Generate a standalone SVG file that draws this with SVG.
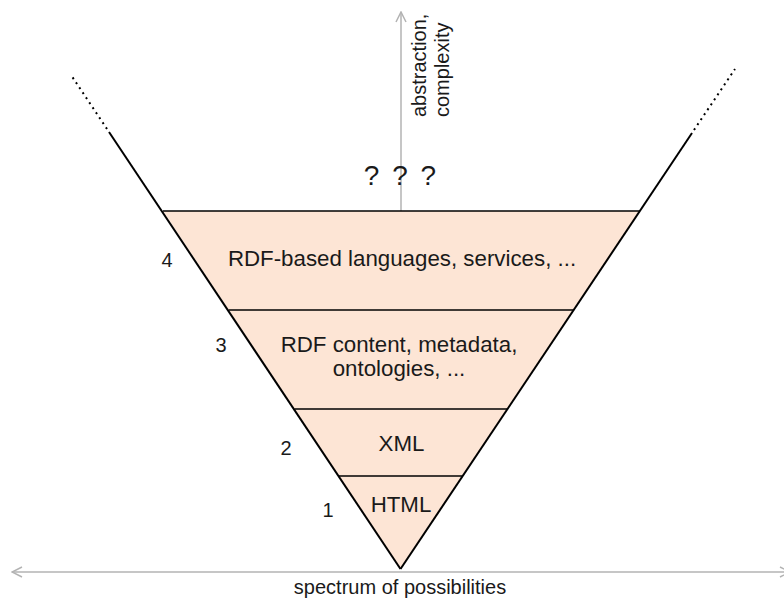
<svg xmlns="http://www.w3.org/2000/svg" width="784" height="598" viewBox="0 0 784 598">
<defs>
<style>
.t{font-family:"Liberation Sans",Arial,sans-serif;font-size:20px;fill:#1a1a1a}
.b{font-size:22.3px}
.c{text-anchor:middle}
.edge{stroke:#000;stroke-width:2;fill:none}
.band{stroke:#000;stroke-width:1.5;fill:none}
.dot{stroke:#000;stroke-width:2;stroke-dasharray:2 4;fill:none}
.axis{stroke:#b3b3b3;stroke-width:1.5;fill:none}
</style>
<marker id="ah" viewBox="0 0 12 12" refX="11" refY="6" markerWidth="12" markerHeight="12" markerUnits="userSpaceOnUse" orient="auto-start-reverse">
<path d="M1,1 L11,6 L1,11" fill="none" stroke="#b3b3b3" stroke-width="1.5"/>
</marker>
</defs>
<rect width="784" height="598" fill="#fff"/>
<g id="funnel">
<polygon points="163,211 640,211 400.5,569" fill="#fde5d5"/>
</g>
<g id="connectors">
<line class="axis" x1="401" y1="211" x2="401" y2="12" marker-end="url(#ah)"/>
<line class="axis" x1="12" y1="572" x2="790" y2="572" marker-start="url(#ah)" marker-end="url(#ah)"/>
<line class="edge" x1="400.5" y1="569" x2="109" y2="132"/>
<line class="edge" x1="400.5" y1="569" x2="692" y2="133"/>
<line class="dot" x1="107" y1="129" x2="71" y2="75"/>
<line class="dot" x1="694" y1="130" x2="735" y2="69"/>
</g>
<g id="level4">
<line class="band" x1="163" y1="211" x2="640" y2="211"/>
<text class="t b c" x="402" y="266">RDF-based languages, services, ...</text>
<text class="t c" x="167" y="267">4</text>
</g>
<g id="level3">
<line class="band" x1="228.7" y1="310" x2="573.8" y2="310"/>
<text class="t b c" x="399" y="352">RDF content, metadata,</text>
<text class="t b c" x="399" y="376">ontologies, ...</text>
<text class="t c" x="221" y="352">3</text>
</g>
<g id="level2">
<line class="band" x1="294.4" y1="409" x2="507.5" y2="409"/>
<text class="t b c" x="401.5" y="451">XML</text>
<text class="t c" x="286" y="455">2</text>
</g>
<g id="level1">
<line class="band" x1="338.8" y1="476" x2="462.7" y2="476"/>
<text class="t b c" x="401" y="512">HTML</text>
<text class="t c" x="328" y="517">1</text>
</g>
<g id="labels">
<text class="t c" x="400" y="185" style="font-size:28px;word-spacing:5px">? ? ?</text>
<text class="t" transform="translate(426,117) rotate(-90)">abstraction,</text>
<text class="t" transform="translate(449,117) rotate(-90)">complexity</text>
<text class="t c" x="400" y="594">spectrum of possibilities</text>
</g>
</svg>
